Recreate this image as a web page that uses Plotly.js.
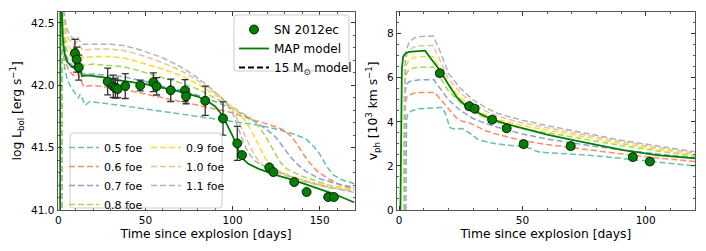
<!DOCTYPE html>
<html><head><meta charset="utf-8">
<script src="https://cdn.plot.ly/plotly-3.0.1.min.js"></script>
<style>html,body{margin:0;padding:0;background:#fff}#chart{width:706px;height:251px}</style>
</head><body><div id="chart"></div>
<script>
// ---------------- data ----------------
const energyLabels = ['0.5 foe','0.6 foe','0.7 foe','0.8 foe','0.9 foe','1.0 foe','1.1 foe'];

// observed bolometric light curve of SN 2012ec
const obsLbolT   = [9.5,10.5,11.7,28.3,31.5,32.7,34.0,38.4,47.0,54.5,56.4,64.5,72.7,73.3,84.3,94.5,102.7,105.4,121.1,123.4,135.4,142.5,154.9,158.2];
const obsLbolL   = [42.258,42.206,42.142,42.030,41.992,41.978,41.970,41.994,41.998,42.024,41.992,41.960,41.958,41.912,41.876,41.734,41.534,41.440,41.342,41.304,41.224,41.144,41.104,41.104];
const obsLbolErr = [0.11,0.10,0.10,0.107,0.09,0.08,0.07,0.10,0.043,0.075,0.07,0.09,0.087,0.06,0.117,0.133,0.136,0,0,0,0,0,0,0];

// observed photospheric velocities (10^3 km/s)
const obsVelT   = [16.5,28.4,30.6,37.7,43.6,50.5,69.6,94.8,101.7];
const obsVelV   = [6.21,4.71,4.60,4.10,3.71,2.99,2.90,2.40,2.20];
const obsVelErr = [0.12,0.12,0.12,0.12,0.12,0.12,0.12,0.12,0.12];

// MAP model  [t, value]
const mapLbol = [[1.0,40.8],[1.2,43.0],[2.0,42.6],[2.5,42.38],[3.5,42.26],[5,42.19],[7.5,42.15],[10.5,42.13],[12.3,42.14],[13.5,42.075],[17,42.08],[25,42.065],[35,42.04],[50,42.01],[60,41.98],[70,41.95],[80,41.91],[86,41.87],[90,41.83],[93,41.78],[95.5,41.72],[98,41.65],[100.5,41.58],[102.5,41.51],[104,41.46],[106,41.41],[109,41.37],[115,41.33],[125,41.28],[135,41.24],[145,41.19],[158,41.13],[170,41.06]];
const mapVel  = [[0.5,0],[0.8,4.0],[1.1,6.4],[1.6,6.95],[2.5,7.1],[4,7.18],[7,7.21],[10.5,7.23],[13,6.85],[16.5,6.34],[20,5.7],[23.3,5.13],[26.5,4.78],[30,4.53],[36.8,4.15],[43,3.92],[50.3,3.7],[60,3.42],[70.6,3.17],[80,2.95],[90.9,2.72],[104.5,2.49],[120,2.34]];

// 15 Msun models, bolometric luminosity [t, log L]
const lbol05 = [[1.5,40.8],[1.7,43.0],[2.5,42.4],[3.5,42.15],[5,42.05],[7,41.99],[9.5,41.94],[11.5,41.9],[12.5,41.93],[14,41.88],[15.5,41.84],[18,41.87],[25,41.86],[35,41.84],[45,41.82],[55,41.8],[65,41.78],[75,41.76],[85,41.74],[95,41.72],[105,41.7],[115,41.68],[125,41.65],[135,41.61],[142,41.57],[146,41.52],[150,41.45],[154,41.35],[158,41.28],[163,41.24],[170,41.21]];
const lbol06 = [[1.6,40.8],[1.8,43.0],[3,42.3],[4.5,42.17],[6,42.12],[8.5,42.08],[10.8,42.1],[12,42.07],[14.5,41.99],[20,42.0],[30,41.98],[37,41.97],[43,41.95],[50,41.93],[60,41.9],[70,41.87],[80,41.84],[90,41.81],[100,41.78],[110,41.73],[120,41.69],[128,41.65],[133,41.6],[137,41.53],[140,41.46],[143,41.4],[148,41.32],[155,41.25],[162,41.2],[170,41.17]];
const lbol07 = [[1.7,40.8],[1.9,43.0],[3,42.38],[4.5,42.24],[6,42.19],[8.5,42.15],[10.8,42.17],[12,42.14],[14,42.09],[20,42.09],[30,42.08],[37,42.07],[43,42.05],[50,42.03],[60,41.99],[70,41.96],[80,41.92],[90,41.87],[100,41.81],[108,41.75],[115,41.69],[121,41.63],[125,41.58],[129,41.5],[133,41.43],[137,41.37],[142,41.31],[150,41.25],[160,41.21],[170,41.18]];
const lbol08 = [[1.8,40.8],[2.0,43.0],[3,42.45],[4.5,42.3],[6,42.25],[8.5,42.21],[10.8,42.23],[12,42.2],[14,42.16],[20,42.17],[30,42.16],[37,42.15],[43,42.13],[50,42.1],[60,42.06],[70,42.02],[80,41.97],[90,41.9],[98,41.84],[104,41.79],[110,41.74],[115,41.67],[119,41.59],[123,41.49],[127,41.39],[131,41.33],[140,41.27],[155,41.2],[170,41.16]];
const lbol09 = [[1.9,40.8],[2.1,43.0],[3,42.5],[4.5,42.36],[6,42.31],[8.5,42.27],[10.8,42.29],[12,42.26],[14,42.22],[20,42.23],[30,42.23],[37,42.22],[43,42.2],[50,42.17],[60,42.13],[70,42.08],[80,42.01],[88,41.94],[95,41.88],[102,41.8],[107,41.72],[111,41.63],[115,41.52],[119,41.41],[123,41.34],[130,41.29],[145,41.22],[170,41.16]];
const lbol10 = [[2.0,40.8],[2.2,43.0],[3,42.55],[4.5,42.42],[6,42.37],[8.5,42.33],[10.8,42.35],[12,42.32],[14,42.28],[20,42.29],[30,42.29],[37,42.28],[43,42.26],[50,42.23],[60,42.18],[70,42.12],[80,42.04],[88,41.96],[95,41.89],[100,41.81],[103,41.72],[106,41.63],[110,41.51],[114,41.41],[118,41.35],[125,41.3],[140,41.23],[155,41.18],[170,41.15]];
const lbol11 = [[2.2,40.8],[2.4,43.0],[3.2,42.6],[4.5,42.47],[6,42.42],[8.5,42.37],[10.8,42.39],[12,42.36],[14,42.33],[20,42.33],[30,42.33],[37,42.32],[43,42.3],[50,42.27],[60,42.22],[70,42.15],[80,42.06],[88,41.97],[95,41.88],[100,41.78],[103,41.67],[106,41.55],[109,41.46],[113,41.39],[120,41.34],[135,41.26],[150,41.2],[170,41.14]];

// 15 Msun models, photospheric velocity [t, v]
const vel05 = [[2.7,0],[3.0,4.1],[3.5,4.35],[5,4.5],[8,4.6],[12,4.63],[17.5,4.65],[19,4.3],[20.5,3.75],[22,3.68],[25.5,3.7],[28.5,3.5],[32,3.2],[37,3.05],[43,2.95],[50,2.88],[53,2.8],[56,2.65],[60,2.6],[77,2.49],[90,2.35],[105,2.18],[120,2.0]];
const vel06 = [[2.0,0],[2.3,4.7],[3,5.1],[4,5.22],[6,5.3],[9,5.33],[14.5,5.33],[17,5.0],[20,4.6],[23,4.2],[26,4.0],[28,3.98],[31,3.82],[35,3.6],[40,3.43],[50,3.15],[60,2.97],[77,2.72],[90,2.55],[105,2.36],[120,2.2]];
const vel07 = [[1.9,0],[2.2,5.2],[3,5.7],[4,5.82],[6,5.88],[9,5.91],[14,5.92],[17,5.45],[20,5.0],[25,4.5],[30,4.15],[35,3.93],[40,3.75],[50,3.45],[60,3.22],[77,2.93],[90,2.73],[105,2.54],[120,2.38]];
const vel08 = [[1.9,0],[2.2,5.7],[3,6.2],[4,6.38],[6,6.45],[9,6.48],[14,6.49],[17,5.95],[20,5.4],[25,4.85],[30,4.45],[35,4.17],[40,3.97],[50,3.7],[60,3.5],[77,3.18],[90,2.93],[105,2.68],[120,2.45]];
const vel09 = [[2.0,0],[2.3,6.1],[3,6.6],[4,6.8],[6,6.92],[9,6.96],[13.8,6.97],[17,6.3],[20,5.7],[25,5.08],[30,4.62],[35,4.32],[40,4.1],[50,3.83],[60,3.62],[77,3.28],[90,3.02],[105,2.75],[120,2.5]];
const vel10 = [[2.1,0],[2.4,6.5],[3,7.0],[4,7.25],[6,7.4],[9,7.45],[13.8,7.47],[17,6.7],[20,5.95],[25,5.3],[30,4.83],[35,4.5],[40,4.25],[50,3.95],[60,3.73],[77,3.38],[90,3.1],[105,2.83],[120,2.58]];
const vel11 = [[2.2,0],[2.5,6.8],[3,7.3],[4,7.6],[6,7.8],[9,7.88],[13.8,7.9],[17,7.1],[20,6.2],[25,5.5],[30,5.0],[35,4.65],[40,4.38],[50,4.07],[60,3.83],[77,3.47],[90,3.17],[105,2.9],[120,2.64]];

const lbolModels = [lbol05,lbol06,lbol07,lbol08,lbol09,lbol10,lbol11];
const velModels  = [vel05,vel06,vel07,vel08,vel09,vel10,vel11];

// ---------------- style ----------------
const modelColors = ['#66c2a5','#fc8d62','#8da0cb','#a6d854','#ffd92f','#e5c494','#b3b3b3'];
const GREEN = '#008000';
const W = 706, H = 251;
const px = x => x / W, py = y => 1 - y / H;
const FONT = 'DejaVu Sans, sans-serif';

const traces = [];
// model curves
lbolModels.forEach((m, i) => {
  traces.push({
    x: m.map(p => p[0]), y: m.map(p => p[1]), xaxis: 'x', yaxis: 'y',
    mode: 'lines', name: energyLabels[i],
    line: {color: modelColors[i], width: 1.5, dash: '6px,3px'},
    legend: i < 4 ? 'legend2' : 'legend3', showlegend: true, hoverinfo: 'skip'
  });
});
velModels.forEach((m, i) => {
  traces.push({
    x: m.map(p => p[0]), y: m.map(p => p[1]), xaxis: 'x2', yaxis: 'y2',
    mode: 'lines', showlegend: false,
    line: {color: modelColors[i], width: 1.5, dash: '6px,3px'}, hoverinfo: 'skip'
  });
});
// MAP
traces.push({x: mapLbol.map(p=>p[0]), y: mapLbol.map(p=>p[1]), xaxis:'x', yaxis:'y', mode:'lines',
  name:'MAP model', line:{color:GREEN, width:1.8}, legend:'legend', legendrank: 2});
traces.push({x: mapVel.map(p=>p[0]), y: mapVel.map(p=>p[1]), xaxis:'x2', yaxis:'y2', mode:'lines',
  showlegend:false, line:{color:GREEN, width:1.8}});
// legend-only entry for the model family
traces.push({x:[null], y:[null], xaxis:'x', yaxis:'y', mode:'lines', name:'15 M<sub>⊙</sub> model',
  line:{color:'#000', width:1.8, dash:'6px,3px'}, legend:'legend', legendrank: 3});
// observations
traces.push({x: obsLbolT, y: obsLbolL, xaxis:'x', yaxis:'y', mode:'markers', name:'SN 2012ec',
  legend:'legend', legendrank: 1,
  marker:{color:GREEN, size:9, line:{color:'#000', width:0.8}},
  error_y:{type:'data', array: obsLbolErr, color:'#333', thickness:1.3, width:3.5}});
traces.push({x: obsVelT, y: obsVelV, xaxis:'x2', yaxis:'y2', mode:'markers', showlegend:false,
  marker:{color:GREEN, size:9, line:{color:'#000', width:0.8}},
  error_y:{type:'data', array: obsVelErr, color:'#222', thickness:1.3, width:4}});

function axisBase() {
  return {
    showline: true, mirror: 'allticks', linecolor: '#555', linewidth: 1,
    ticks: 'inside', ticklen: 4, tickwidth: 1, tickcolor: '#333',
    showgrid: false, zeroline: false,
    tickfont: {family: FONT, size: 10.5, color: '#000'},
    minor: {ticks: 'inside', ticklen: 2, tickwidth: 0.8, tickcolor: '#333', showgrid: false}
  };
}
function roundRect(x0, y0, x1, y1, r) {
  const X = v => px(v).toFixed(5), Y = v => py(v).toFixed(5);
  return `M ${X(x0+r)},${Y(y0)} L ${X(x1-r)},${Y(y0)} Q ${X(x1)},${Y(y0)} ${X(x1)},${Y(y0+r)} ` +
         `L ${X(x1)},${Y(y1-r)} Q ${X(x1)},${Y(y1)} ${X(x1-r)},${Y(y1)} L ${X(x0+r)},${Y(y1)} ` +
         `Q ${X(x0)},${Y(y1)} ${X(x0)},${Y(y1-r)} L ${X(x0)},${Y(y0+r)} Q ${X(x0)},${Y(y0)} ${X(x0+r)},${Y(y0)} Z`;
}

const ydom = [py(210), py(11.7)];
const layout = {
  width: W, height: H, margin: {l: 0, r: 0, t: 0, b: 0},
  paper_bgcolor: '#fff', plot_bgcolor: '#fff',
  font: {family: FONT, size: 11, color: '#000'},
  showlegend: true,
  xaxis: Object.assign(axisBase(), {domain: [px(57.5), px(354.5)], range: [-0.5, 170], anchor: 'y',
    dtick: 50, tick0: 0, minor: Object.assign(axisBase().minor, {dtick: 10}),
    title: {text: 'Time since explosion [days]', font: {family: FONT, size: 12.3}, standoff: 4}}),
  yaxis: Object.assign(axisBase(), {domain: ydom, range: [41.0, 42.59], anchor: 'x',
    dtick: 0.5, tick0: 41, tickformat: '.1f', minor: Object.assign(axisBase().minor, {dtick: 0.1}),
    title: {text: 'log L<sub>bol</sub> [erg s<sup>−1</sup>]', font: {family: FONT, size: 12.3}, standoff: 6}}),
  xaxis2: Object.assign(axisBase(), {domain: [px(396.7), px(695)], range: [-1, 120], anchor: 'y2',
    dtick: 50, tick0: 0, minor: Object.assign(axisBase().minor, {dtick: 10}),
    title: {text: 'Time since explosion [days]', font: {family: FONT, size: 12.3}, standoff: 4}}),
  yaxis2: Object.assign(axisBase(), {domain: ydom, range: [0, 9], anchor: 'x2',
    dtick: 2, tick0: 0, minor: Object.assign(axisBase().minor, {dtick: 0.5}),
    title: {text: 'v<sub>ph</sub> [10<sup>3</sup> km s<sup>−1</sup>]', font: {family: FONT, size: 12.3}, standoff: 6}}),
  legend: {x: px(234), y: py(15), xanchor: 'left', yanchor: 'top', bgcolor: 'rgba(0,0,0,0)',
    borderwidth: 0, font: {family: FONT, size: 12}, traceorder: 'normal'},
  legend2: {x: px(64), y: py(133), xanchor: 'left', yanchor: 'top', bgcolor: 'rgba(0,0,0,0)',
    borderwidth: 0, font: {family: FONT, size: 11}},
  legend3: {x: px(146), y: py(133), xanchor: 'left', yanchor: 'top', bgcolor: 'rgba(0,0,0,0)',
    borderwidth: 0, font: {family: FONT, size: 11}},
  shapes: [
    {type: 'path', xref: 'paper', yref: 'paper', layer: 'above', path: roundRect(234, 15, 349, 71, 3),
     line: {color: '#cccccc', width: 1}, fillcolor: 'rgba(255,255,255,0.8)'},
    {type: 'path', xref: 'paper', yref: 'paper', layer: 'above', path: roundRect(70, 133, 222, 208, 3),
     line: {color: '#cccccc', width: 1}, fillcolor: 'rgba(255,255,255,0.8)'}
  ]
};

Plotly.newPlot('chart', traces, layout, {staticPlot: true, displayModeBar: false});
</script></body></html>
